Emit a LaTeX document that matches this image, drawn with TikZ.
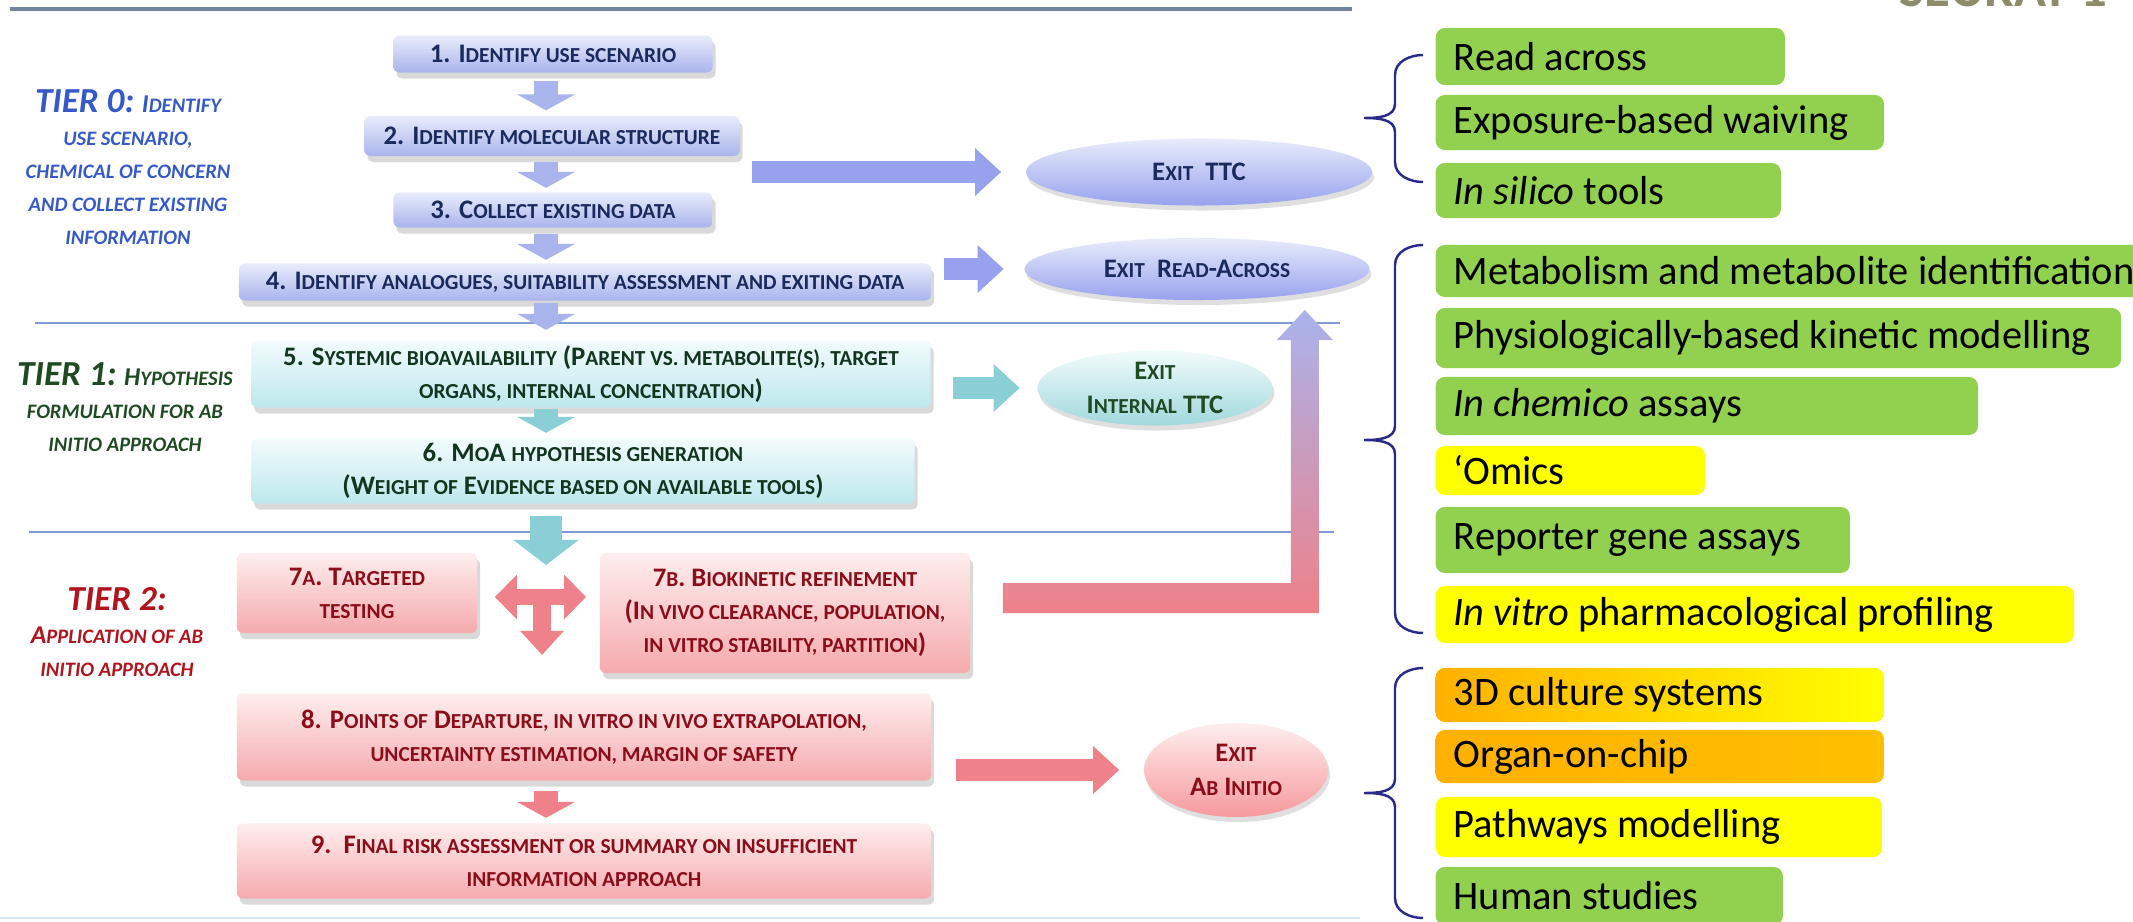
\documentclass[tikz,border=0pt]{standalone}
\usepackage{fontspec}
\setmainfont{Carlito}
\newfontfamily\scfont[Scale=0.8]{Carlito}
\usepackage{tikz}
\usetikzlibrary{arrows.meta}
\usetikzlibrary{positioning}
\usetikzlibrary{calc}
\usetikzlibrary{shapes.geometric}
\usetikzlibrary{shadows}

\definecolor{navy}{HTML}{1B2A5C}
\definecolor{tzero}{HTML}{3559C8}
\definecolor{tone}{HTML}{1F4A22}
\definecolor{ttwo}{HTML}{B0141E}
\definecolor{dgreen}{HTML}{12351F}
\definecolor{dred}{HTML}{8B0D1A}
\definecolor{btop}{HTML}{E8ECFB}
\definecolor{bbot}{HTML}{A9B4EC}
\definecolor{ctop}{HTML}{F2FBFC}
\definecolor{cbot}{HTML}{BDE8ED}
\definecolor{ptop}{HTML}{FEEEEE}
\definecolor{pbot}{HTML}{F5AAAE}
\definecolor{barr}{HTML}{A9B3EC}
\definecolor{carr}{HTML}{8ACFD5}
\definecolor{parr}{HTML}{EE8189}
\definecolor{leaf}{HTML}{92D050}
\definecolor{lemon}{HTML}{FFFF00}
\definecolor{amber}{HTML}{FFB000}
\definecolor{bracecol}{HTML}{2A2A8C}
\definecolor{rulecol}{HTML}{7F9AD4}
\definecolor{topcol}{HTML}{7384A0}
\definecolor{faintcol}{HTML}{D6E6F4}
\definecolor{seuratcol}{HTML}{8C8C6A}

\newcommand{\sca}[1]{{\scfont\MakeUppercase{#1}}}
\newcommand{\tool}[6]{\node (#1) [tool, #2, minimum height=#5cm] at (1435,#4) {\makebox[#3cm][l]{#6}}}
\newcommand{\sidebrace}[3]{\draw[brc] (1423,#1) to[out=180,in=90] (1395,{#1+20}) -- (1395,{#2-14})
  to[out=-90,in=0] (1364,#2) to[out=0,in=90] (1395,{#2+14}) -- (1395,{#3-20}) to[out=-90,in=180] (1423,#3)}

\begin{document}
\begin{tikzpicture}[
        x=0.01cm, y=-0.01cm,
        stage/.style={rounded corners=0.06cm, align=center, inner sep=0pt,
                      font=\bfseries\fontsize{7.6}{9.4}\selectfont,
                      drop shadow={opacity=0.3, shadow xshift=0.03cm, shadow yshift=-0.06cm}},
        tier0/.style={stage, top color=btop, bottom color=bbot, text=navy},
        tier1/.style={stage, top color=ctop, bottom color=cbot, text=dgreen},
        tier2/.style={stage, top color=ptop, bottom color=pbot, text=dred},
        exitnode/.style={ellipse, inner sep=0pt, align=center,
                         font=\bfseries\fontsize{7.6}{9.6}\selectfont,
                         drop shadow={opacity=0.25, shadow xshift=0.02cm, shadow yshift=-0.05cm}},
        tierlabel/.style={align=center, font=\bfseries\itshape\fontsize{7.3}{9.4}\selectfont},
        tool/.style={anchor=west, rounded corners=0.09cm, inner xsep=0.18cm, inner ysep=0pt,
                     font=\fontsize{11.5}{13}\selectfont},
        dn/.style={line width=6.6pt, -{Triangle[length=0.16cm,width=0.58cm]}},
        rt/.style={line width=6pt, -{Triangle[length=0.26cm,width=0.46cm]}},
        tbar/.style={draw=parr, line width=4.6pt},
        brc/.style={draw=bracecol, line width=0.7pt},
        tierrule/.style={draw=rulecol, line width=0.6pt}
      ]
      \useasboundingbox (0,0) rectangle (2133,921);
      \clip (0,0) rectangle (2133,921);

      % separators
      \draw[draw=topcol, line width=0.9pt] (10,9) -- (1352,9);
      \draw[tierrule] (35,323) -- (1340,323);
      \draw[tierrule] (29,532) -- (1334,532);
      \draw[draw=faintcol, line width=0.8pt] (0,918) -- (1360,918);
      \node[anchor=base west, font=\bfseries\fontsize{15}{15}\selectfont, text=seuratcol] (logo) at (1887,6) {SEURAT-1};

      % tier labels
      \node[tierlabel, text=tzero] (t0) at (128,167) {{\fontsize{10}{11}\selectfont TIER 0:} I\sca{dentify}\\ \sca{use scenario,}\\ \sca{chemical of concern}\\ \sca{and collect existing}\\ \sca{information}};
      \node[tierlabel, text=tone] (t1) at (125,407) {{\fontsize{10}{11}\selectfont TIER 1:} H\sca{ypothesis}\\ \sca{formulation for ab}\\ \sca{initio approach}};
      \node[tierlabel, text=ttwo] (t2) at (117,632) {{\fontsize{10}{11}\selectfont TIER 2:}\\ A\sca{pplication of ab}\\ \sca{initio approach}};

      % steps
      \node[tier0, minimum width=3.19cm, minimum height=0.37cm] (b1) at (553,54) {1. I\sca{dentify use scenario}};
      \node[tier0, minimum width=3.75cm, minimum height=0.40cm] (b2) at (552,136) {2. I\sca{dentify molecular structure}};
      \node[tier0, minimum width=3.19cm, minimum height=0.35cm] (b3) at (553,210) {3. C\sca{ollect existing data}};
      \node[tier0, minimum width=6.92cm, minimum height=0.37cm] (b4) at (585,282) {4. I\sca{dentify analogues, suitability assessment and exiting data}};
      \node[tier1, minimum width=6.79cm, minimum height=0.67cm] (b5) at (591,374) {5. S\sca{ystemic bioavailability} (P\sca{arent vs. metabolite(s), target}\\ \sca{organs, internal concentration})};
      \node[tier1, minimum width=6.63cm, minimum height=0.65cm] (b6) at (583,471) {6. M\sca{o}A \sca{hypothesis generation}\\ (W\sca{eight of} E\sca{vidence based on available tools})};
      \node[tier2, minimum width=2.40cm, minimum height=0.80cm] (b7a) at (357,593) {7\sca{a}. T\sca{argeted}\\ \sca{testing}};
      \node[tier2, minimum width=3.70cm, minimum height=1.20cm] (b7b) at (785,613) {7\sca{b}. B\sca{iokinetic refinement}\\ (I\sca{n vivo clearance, population,}\\ \sca{in vitro stability, partition})};
      \node[tier2, minimum width=6.94cm, minimum height=0.87cm] (b8) at (584,737) {8. P\sca{oints of} D\sca{eparture, in vitro in vivo extrapolation,}\\ \sca{uncertainty estimation, margin of safety}};
      \node[tier2, minimum width=6.94cm, minimum height=0.75cm] (b9) at (584,861) {9.\ \ F\sca{inal risk assessment or summary on insufficient}\\ \sca{information approach}};

      % exits
      \node[exitnode, top color=btop, bottom color=bbot!90!blue, text=navy, minimum width=3.46cm, minimum height=0.67cm] (xttc) at (1199,172) {E\sca{xit}\ \ TTC};
      \node[exitnode, top color=btop, bottom color=bbot!90!blue, text=navy, minimum width=3.45cm, minimum height=0.62cm] (xra) at (1197,269) {E\sca{xit}\ \ R\sca{ead}-A\sca{cross}};
      \node[exitnode, top color=ctop, bottom color=cbot!85!teal, text=tone, minimum width=2.35cm, minimum height=0.75cm] (xitt) at (1155,388) {E\sca{xit}\\ I\sca{nternal} TTC};
      \node[exitnode, top color=ptop, bottom color=pbot!90!red, text=dred, minimum width=1.84cm, minimum height=0.94cm] (xabi) at (1236,770) {E\sca{xit}\\ A\sca{b} I\sca{nitio}};

      % flow arrows
      \coordinate (col) at (546,0);
      \coordinate (mid7) at (546,565);
      \coordinate (tee) at (542,597);
      \coordinate (teebot) at (542,655);
      \draw[dn, draw=barr, shorten <=0.08cm, shorten >=0.05cm] (b1.south -| col) -- (b2.north -| col);
      \draw[dn, draw=barr, shorten <=0.05cm, shorten >=0.04cm] (b2.south -| col) -- (b3.north -| col);
      \draw[dn, draw=barr, shorten <=0.06cm, shorten >=0.03cm] (b3.south -| col) -- (b4.north -| col);
      \draw[dn, draw=barr, shorten <=0.02cm, shorten >=0.10cm] (b4.south -| col) -- (b5.north -| col);
      \draw[dn, draw=carr, shorten <=0.01cm, shorten >=0.05cm] (b5.south -| col) -- (b6.north -| col);
      \draw[draw=carr, line width=9pt, -{Triangle[length=0.25cm,width=0.64cm]}, shorten <=0.12cm] (b6.south -| col) -- (mid7);
      \draw[dn, draw=parr, shorten <=0.10cm, shorten >=0.05cm] (b8.south -| col) -- (b9.north -| col);
      \draw[tbar, {Triangle[length=0.22cm,width=0.43cm]}-{Triangle[length=0.22cm,width=0.43cm]}, shorten <=0.17cm, shorten >=0.13cm] (b7a.east |- tee) -- (b7b.west |- tee);
      \draw[tbar, line width=5pt, -{Triangle[length=0.24cm,width=0.42cm]}] (tee) -- (teebot);

      % exit arrows
      \draw[rt, draw=barr!90!blue, shorten <=0.12cm, shorten >=0.24cm] (b2.east |- xttc) -- (xttc.west);
      \draw[rt, draw=barr!90!blue, shorten <=0.12cm, shorten >=0.20cm] (b4.east |- xra) -- (xra.west);
      \draw[rt, draw=carr, shorten <=0.22cm, shorten >=0.17cm] (b5.east |- xitt) -- (xitt.west);
      \draw[rt, draw=parr, shorten <=0.24cm, shorten >=0.24cm] (b8.east |- xabi) -- (xabi.west);
      \shade[top color=barr, middle color=barr!50!parr, bottom color=parr]
        ($(b7b.east)+(32,-30)$) -- ++(288,0) -- ++(0,-243) -- ++(-14,0) -- ++(28,-30) -- ++(28,30)
        -- ++(-14,0) -- ++(0,273) -- ++(-316,0) -- cycle;

      % tools
      \sidebrace{55}{118}{182};
      \sidebrace{245}{440}{633};
      \sidebrace{668}{793}{918};
      \tool{r1}{fill=leaf}{3.13}{56.5}{0.57}{Read across};
      \tool{r2}{fill=leaf}{4.12}{122.5}{0.55}{Exposure-based waiving};
      \tool{r3}{fill=leaf}{3.09}{190.5}{0.55}{\textit{In silico} tools};
      \tool{r4}{fill=leaf}{8.00}{271}{0.52}{Metabolism and metabolite identification};
      \tool{r5}{fill=leaf}{6.49}{338}{0.60}{Physiologically-based kinetic modelling};
      \tool{r6}{fill=leaf}{5.06}{406}{0.58}{\textit{In chemico} assays};
      \tool{r7}{fill=lemon}{2.33}{470.5}{0.49}{`Omics};
      \tool{r8}{fill=leaf}{3.78}{540}{0.66}{Reporter gene assays};
      \tool{r9}{fill=lemon}{6.02}{614.5}{0.57}{\textit{In vitro} pharmacological profiling};
      \tool{r10}{left color=amber, right color=lemon}{4.12}{695}{0.54}{3D culture systems};
      \tool{r11}{left color=amber, right color=amber!80!lemon}{4.12}{756.5}{0.53}{Organ-on-chip};
      \tool{r12}{fill=lemon}{4.10}{827}{0.60}{Pathways modelling};
      \tool{r13}{fill=leaf}{3.11}{896}{0.58}{Human studies};

    \end{tikzpicture}
\end{document}
